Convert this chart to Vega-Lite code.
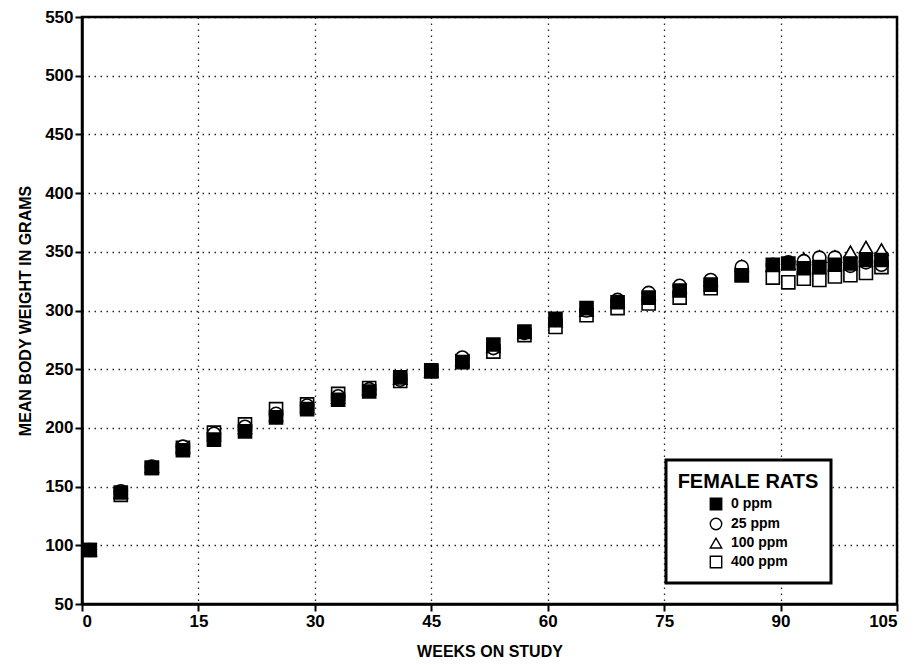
{
  "$schema": "https://vega.github.io/schema/vega-lite/v6.json",
  "width": 815,
  "height": 587,
  "autosize": {"type": "none"},
  "padding": {"left": 82, "top": 17, "right": 17, "bottom": 61},
  "background": "white",
  "config": {
    "view": {"stroke": "black", "strokeWidth": 2.5},
    "font": "Liberation Sans",
    "axis": {
      "domainColor": "black", "domainWidth": 2.5,
      "tickColor": "black", "tickWidth": 2, "tickSize": 7,
      "gridColor": "black", "gridDash": [1.5, 4.5], "gridWidth": 1.3, "gridOpacity": 0.85,
      "labelFont": "Liberation Sans", "labelFontWeight": "bold", "labelFontSize": 17, "labelColor": "black",
      "titleFont": "Liberation Sans", "titleFontWeight": "bold", "titleFontSize": 16, "titleColor": "black",
      "labelPadding": 2
    },
    "legend": {
      "strokeColor": "black", "strokeWidth": 3, "padding": 12, "fillColor": "white",
      "titleFont": "Liberation Sans", "titleFontSize": 20, "titleFontWeight": "bold", "titleColor": "black",
      "titleAnchor": "middle", "titlePadding": 5,
      "labelFont": "Liberation Sans", "labelFontSize": 14, "labelFontWeight": "bold", "labelColor": "black",
      "labelOffset": 8, "rowPadding": 2, "symbolOffset": 0,
      "symbolSize": 130, "symbolStrokeWidth": 1.4
    }
  },
  "data": {
    "values": [
      {"week":1,"dose":"400 ppm","w":96},{"week":1,"dose":"100 ppm","w":96},{"week":1,"dose":"25 ppm","w":96},{"week":1,"dose":"0 ppm","w":96},
      {"week":5,"dose":"400 ppm","w":143},{"week":5,"dose":"100 ppm","w":145},{"week":5,"dose":"25 ppm","w":146},{"week":5,"dose":"0 ppm","w":145},
      {"week":9,"dose":"400 ppm","w":166},{"week":9,"dose":"100 ppm","w":167},{"week":9,"dose":"25 ppm","w":167},{"week":9,"dose":"0 ppm","w":166},
      {"week":13,"dose":"400 ppm","w":183},{"week":13,"dose":"100 ppm","w":184},{"week":13,"dose":"25 ppm","w":184},{"week":13,"dose":"0 ppm","w":181},
      {"week":17,"dose":"400 ppm","w":196},{"week":17,"dose":"100 ppm","w":194},{"week":17,"dose":"25 ppm","w":195},{"week":17,"dose":"0 ppm","w":190},
      {"week":21,"dose":"400 ppm","w":203},{"week":21,"dose":"100 ppm","w":200},{"week":21,"dose":"25 ppm","w":201},{"week":21,"dose":"0 ppm","w":197},
      {"week":25,"dose":"400 ppm","w":216},{"week":25,"dose":"100 ppm","w":211},{"week":25,"dose":"25 ppm","w":212},{"week":25,"dose":"0 ppm","w":209},
      {"week":29,"dose":"400 ppm","w":220},{"week":29,"dose":"100 ppm","w":218},{"week":29,"dose":"25 ppm","w":219},{"week":29,"dose":"0 ppm","w":216},
      {"week":33,"dose":"400 ppm","w":229},{"week":33,"dose":"100 ppm","w":226},{"week":33,"dose":"25 ppm","w":227},{"week":33,"dose":"0 ppm","w":224},
      {"week":37,"dose":"400 ppm","w":234},{"week":37,"dose":"100 ppm","w":233},{"week":37,"dose":"25 ppm","w":233},{"week":37,"dose":"0 ppm","w":231},
      {"week":41,"dose":"400 ppm","w":240},{"week":41,"dose":"100 ppm","w":242},{"week":41,"dose":"25 ppm","w":241},{"week":41,"dose":"0 ppm","w":243},
      {"week":45,"dose":"400 ppm","w":248},{"week":45,"dose":"100 ppm","w":248},{"week":45,"dose":"25 ppm","w":249},{"week":45,"dose":"0 ppm","w":249},
      {"week":49,"dose":"400 ppm","w":257},{"week":49,"dose":"100 ppm","w":258},{"week":49,"dose":"25 ppm","w":260},{"week":49,"dose":"0 ppm","w":256},
      {"week":53,"dose":"400 ppm","w":265},{"week":53,"dose":"100 ppm","w":269},{"week":53,"dose":"25 ppm","w":268},{"week":53,"dose":"0 ppm","w":271},
      {"week":57,"dose":"400 ppm","w":279},{"week":57,"dose":"100 ppm","w":281},{"week":57,"dose":"25 ppm","w":281},{"week":57,"dose":"0 ppm","w":282},
      {"week":61,"dose":"400 ppm","w":286},{"week":61,"dose":"100 ppm","w":291},{"week":61,"dose":"25 ppm","w":292},{"week":61,"dose":"0 ppm","w":293},
      {"week":65,"dose":"400 ppm","w":296},{"week":65,"dose":"100 ppm","w":300},{"week":65,"dose":"25 ppm","w":300},{"week":65,"dose":"0 ppm","w":302},
      {"week":69,"dose":"400 ppm","w":302},{"week":69,"dose":"100 ppm","w":308},{"week":69,"dose":"25 ppm","w":309},{"week":69,"dose":"0 ppm","w":307},
      {"week":73,"dose":"400 ppm","w":306},{"week":73,"dose":"100 ppm","w":314},{"week":73,"dose":"25 ppm","w":315},{"week":73,"dose":"0 ppm","w":311},
      {"week":77,"dose":"400 ppm","w":311},{"week":77,"dose":"100 ppm","w":320},{"week":77,"dose":"25 ppm","w":321},{"week":77,"dose":"0 ppm","w":317},
      {"week":81,"dose":"400 ppm","w":319},{"week":81,"dose":"100 ppm","w":326},{"week":81,"dose":"25 ppm","w":326},{"week":81,"dose":"0 ppm","w":322},
      {"week":85,"dose":"400 ppm","w":330},{"week":85,"dose":"100 ppm","w":338},{"week":85,"dose":"25 ppm","w":337},{"week":85,"dose":"0 ppm","w":330},
      {"week":89,"dose":"400 ppm","w":328},{"week":89,"dose":"100 ppm","w":338},{"week":89,"dose":"25 ppm","w":339},{"week":89,"dose":"0 ppm","w":339},
      {"week":91,"dose":"400 ppm","w":324},{"week":91,"dose":"100 ppm","w":340},{"week":91,"dose":"25 ppm","w":341},{"week":91,"dose":"0 ppm","w":340},
      {"week":93,"dose":"400 ppm","w":327},{"week":93,"dose":"100 ppm","w":344},{"week":93,"dose":"25 ppm","w":342},{"week":93,"dose":"0 ppm","w":336},
      {"week":95,"dose":"400 ppm","w":326},{"week":95,"dose":"100 ppm","w":346},{"week":95,"dose":"25 ppm","w":345},{"week":95,"dose":"0 ppm","w":337},
      {"week":97,"dose":"400 ppm","w":329},{"week":97,"dose":"100 ppm","w":346},{"week":97,"dose":"25 ppm","w":345},{"week":97,"dose":"0 ppm","w":339},
      {"week":99,"dose":"400 ppm","w":330},{"week":99,"dose":"100 ppm","w":350},{"week":99,"dose":"25 ppm","w":338},{"week":99,"dose":"0 ppm","w":340},
      {"week":101,"dose":"400 ppm","w":332},{"week":101,"dose":"100 ppm","w":354},{"week":101,"dose":"25 ppm","w":341},{"week":101,"dose":"0 ppm","w":343},
      {"week":103,"dose":"400 ppm","w":337},{"week":103,"dose":"100 ppm","w":352},{"week":103,"dose":"25 ppm","w":339},{"week":103,"dose":"0 ppm","w":343}
    ]
  },
  "mark": {"type": "point", "size": 170, "stroke": "black", "strokeWidth": 1.6, "opacity": 1, "filled": true},
  "encoding": {
    "x": {
      "field": "week", "type": "quantitative",
      "scale": {"domain": [0, 105], "nice": false, "zero": false},
      "axis": {"values": [0, 15, 30, 45, 60, 75, 90, 105], "title": "WEEKS ON STUDY", "titlePadding": 14}
    },
    "y": {
      "field": "w", "type": "quantitative",
      "scale": {"domain": [50, 550], "nice": false, "zero": false},
      "axis": {"values": [50, 100, 150, 200, 250, 300, 350, 400, 450, 500, 550], "title": "MEAN BODY WEIGHT IN GRAMS", "titlePadding": 11}
    },
    "color": {
      "field": "dose", "type": "nominal",
      "scale": {"domain": ["0 ppm", "25 ppm", "100 ppm", "400 ppm"], "range": ["black", "white", "white", "white"]},
      "legend": {
        "title": "FEMALE RATS", "orient": "none", "legendX": 584, "legendY": 443,
        "symbolStrokeColor": "black"
      }
    },
    "shape": {
      "field": "dose", "type": "nominal",
      "scale": {"domain": ["0 ppm", "25 ppm", "100 ppm", "400 ppm"], "range": ["square", "circle", "triangle-up", "square"]},
      "legend": {
        "title": "FEMALE RATS", "orient": "none", "legendX": 584, "legendY": 443,
        "symbolStrokeColor": "black"
      }
    }
  }
}
